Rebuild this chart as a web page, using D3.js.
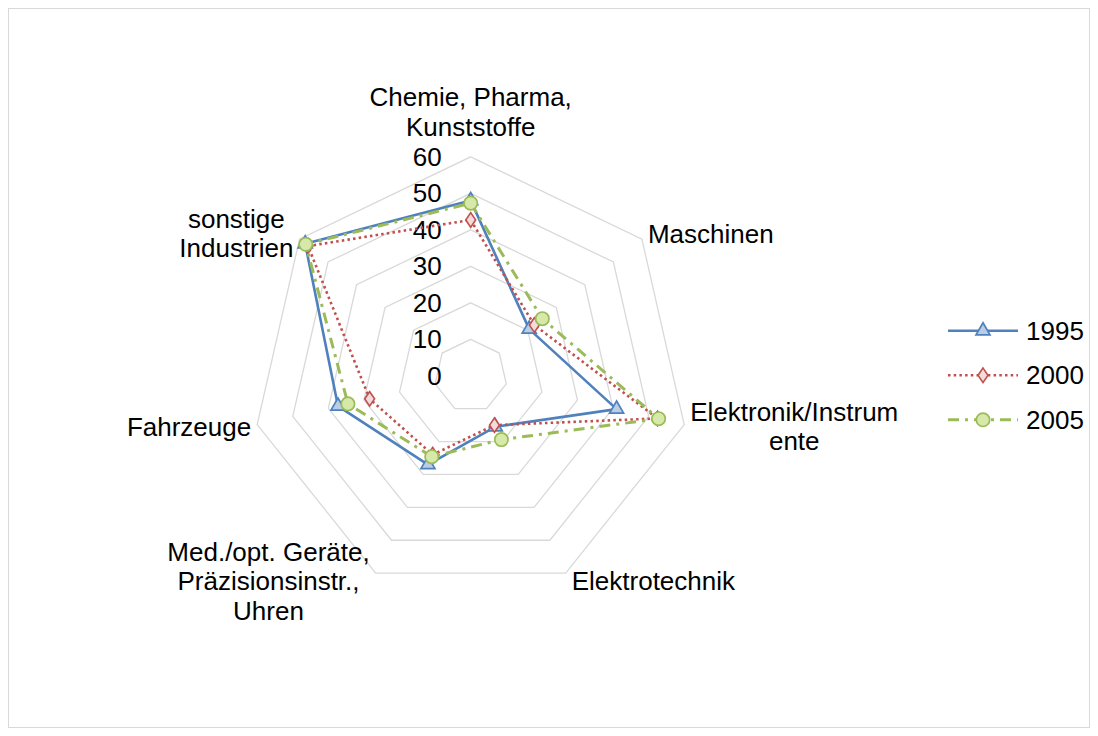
<!DOCTYPE html>
<html><head><meta charset="utf-8">
<script src="https://cdn.jsdelivr.net/npm/d3@7"></script>
<style>
html,body{margin:0;padding:0;background:#fff;}
text{font-family:"Liberation Sans",Arial,sans-serif;fill:#000;}
</style></head>
<body>
<svg id="chart" width="1098" height="736"></svg>
<script>
// ---- data ----
const categories = [
  ["Chemie, Pharma,", "Kunststoffe"],
  ["Maschinen"],
  ["Elektronik/Instrum", "ente"],
  ["Elektrotechnik"],
  ["Med./opt. Geräte,", "Präzisionsinstr.,", "Uhren"],
  ["Fahrzeuge"],
  ["sonstige", "Industrien"]
];
const years = ["1995", "2000", "2005"];
const v1995 = [48, 20.5, 41, 15.5, 27, 37.3, 58];
const v2000 = [42.7, 22.3, 52.5, 15, 24, 28.4, 57];
const v2005 = [47.3, 25.1, 52.8, 19.4, 24.6, 34.5, 57.8];
const tickValues = [0, 10, 20, 30, 40, 50, 60];

// ---- layout ----
const W = 1098, H = 736;
const cx = 470.7, cy = 375.8, R = 219;
const fs = 26;
const svg = d3.select("#chart");

svg.append("rect").attr("x", 8.5).attr("y", 8.5).attr("width", 1081).attr("height", 719)
  .attr("fill", "#fff").attr("stroke", "#d9d9d9").attr("stroke-width", 1);

const n = categories.length;
const angle = d3.scaleLinear().domain([0, n]).range([0, 2 * Math.PI]);
const r = d3.scaleLinear().domain([0, 60]).range([0, R]);
const pt = (i, v) => [cx + r(v) * Math.sin(angle(i)), cy - r(v) * Math.cos(angle(i))];

const g = svg.append("g");

// grid rings
tickValues.filter(t => t > 0).forEach(t => {
  const pts = d3.range(n).map(i => pt(i, t));
  g.append("path").attr("d", d3.line()(pts) + "Z")
    .attr("fill", "none").attr("stroke", "#d9d9d9").attr("stroke-width", 1.3);
});

// tick labels
g.selectAll("text.tick").data(tickValues).join("text")
  .attr("class", "tick")
  .attr("x", cx - 29)
  .attr("y", d => cy - r(d) + fs * 0.35)
  .attr("text-anchor", "end")
  .attr("font-size", fs)
  .text(d => d);

// category labels
const lh = 29.5;
categories.forEach((lines, i) => {
  const a = angle(i);
  const s = Math.sin(a), c = Math.cos(a);
  const [vx, vy] = pt(i, 60);
  const lg = g.append("g");
  const texts = lines.map((l, k) => lg.append("text").attr("font-size", fs).attr("text-anchor", "middle").text(l));
  const wmax = d3.max(texts, t => t.node().getComputedTextLength());
  let centerX, firstBase;
  if (Math.abs(s) < 0.1) {
    centerX = vx;
    const lastBase = vy - 21;
    firstBase = lastBase - (lines.length - 1) * lh;
  } else {
    const off = 6;
    centerX = s > 0 ? vx + off + wmax / 2 : vx - off - wmax / 2;
    const blockCenter = vy - 9 * c;
    firstBase = blockCenter - (lines.length - 1) * lh / 2 + fs * 0.35;
  }
  texts.forEach((t, k) => t.attr("x", centerX).attr("y", firstBase + k * lh));
});

// series
const series = [
  {name: years[0], values: v1995, color: "#4f81bd", fill: "#b9cde5", dash: null, width: 2.6, marker: "triangle"},
  {name: years[1], values: v2000, color: "#c0504d", fill: "#f2dcdb", dash: "2.5,3.2", width: 2.6, marker: "diamond"},
  {name: years[2], values: v2005, color: "#9bbb59", fill: "#d7e9a8", dash: "11,6,3,6", width: 3, marker: "circle"}
];
const symType = {triangle: d3.symbolTriangle, diamond: d3.symbolDiamond, circle: d3.symbolCircle};
const symSize = {triangle: 85, diamond: 85, circle: 140};

function drawMarker(sel, s, x, y) {
  const sym = d3.symbol().type(symType[s.marker]).size(symSize[s.marker]);
  sel.append("path").attr("d", sym())
    .attr("transform", `translate(${x},${y})` + (s.marker === "diamond" ? " scale(1.0,0.85)" : ""))
    .attr("fill", s.fill).attr("stroke", s.color).attr("stroke-width", 1.7);
}

series.forEach(s => {
  const pts = s.values.map((v, i) => pt(i, v));
  g.append("path").attr("d", d3.line()(pts) + "Z")
    .attr("fill", "none").attr("stroke", s.color).attr("stroke-width", s.width)
    .attr("stroke-dasharray", s.dash).attr("stroke-linejoin", "round");
  pts.forEach(p => drawMarker(g, s, p[0], p[1]));
});

// legend
const legX0 = 948, legX1 = 1018, legText = 1026, legStep = 44.5;
series.forEach((s, k) => {
  const y = cy - 45 + k * legStep;
  g.append("line").attr("x1", legX0).attr("x2", legX1).attr("y1", y).attr("y2", y)
    .attr("stroke", s.color).attr("stroke-width", s.width).attr("stroke-dasharray", s.dash);
  drawMarker(g, s, (legX0 + legX1) / 2, y);
  g.append("text").attr("x", legText).attr("y", y + fs * 0.35).attr("font-size", fs).text(s.name);
});
</script>
</body></html>
